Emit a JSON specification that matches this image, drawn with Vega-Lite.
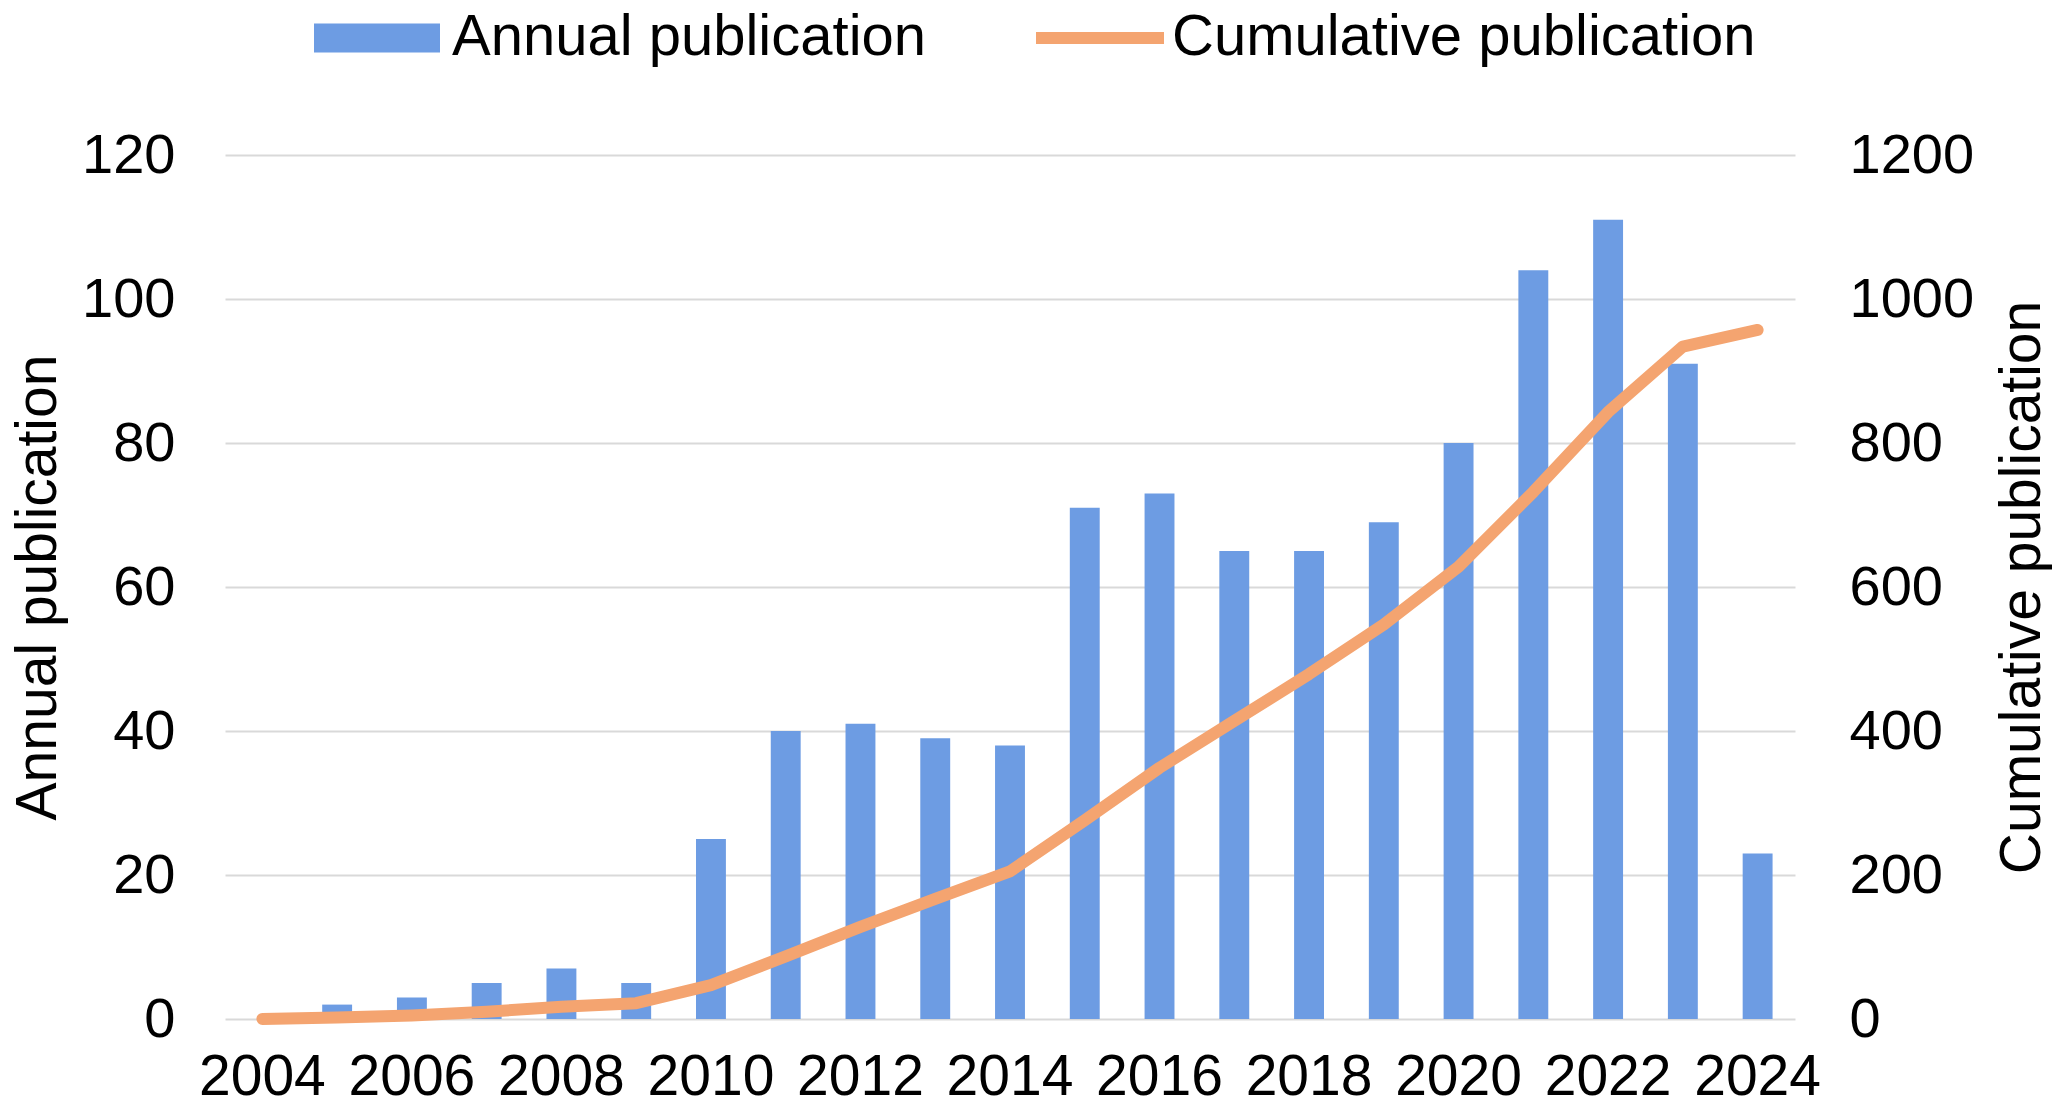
{
  "$schema": "https://vega.github.io/schema/vega-lite/v6.json",
  "autosize": {"type": "none"},
  "padding": {"left": 225, "top": 155, "right": 261, "bottom": 90},
  "width": 1570,
  "height": 864,
  "background": "white",
  "config": {
    "font": "Liberation Sans",
    "view": {"stroke": null},
    "axis": {
      "labelFont": "Liberation Sans",
      "titleFont": "Liberation Sans",
      "labelColor": "black",
      "titleColor": "black",
      "titleFontWeight": "normal",
      "ticks": false,
      "domain": false
    },
    "legend": {
      "labelFont": "Liberation Sans",
      "labelColor": "black",
      "labelFontSize": 58,
      "labelLimit": 0,
      "title": null,
      "orient": "none"
    }
  },
  "data": {
    "values": [
      {"year": "2004", "annual": 0, "cumulative": 0},
      {"year": "2005", "annual": 2, "cumulative": 2},
      {"year": "2006", "annual": 3, "cumulative": 5},
      {"year": "2007", "annual": 5, "cumulative": 10},
      {"year": "2008", "annual": 7, "cumulative": 17},
      {"year": "2009", "annual": 5, "cumulative": 22},
      {"year": "2010", "annual": 25, "cumulative": 47},
      {"year": "2011", "annual": 40, "cumulative": 87},
      {"year": "2012", "annual": 41, "cumulative": 128},
      {"year": "2013", "annual": 39, "cumulative": 167},
      {"year": "2014", "annual": 38, "cumulative": 205},
      {"year": "2015", "annual": 71, "cumulative": 276},
      {"year": "2016", "annual": 73, "cumulative": 349},
      {"year": "2017", "annual": 65, "cumulative": 414},
      {"year": "2018", "annual": 65, "cumulative": 479},
      {"year": "2019", "annual": 69, "cumulative": 548},
      {"year": "2020", "annual": 80, "cumulative": 628},
      {"year": "2021", "annual": 104, "cumulative": 732},
      {"year": "2022", "annual": 111, "cumulative": 843},
      {"year": "2023", "annual": 91, "cumulative": 934},
      {"year": "2024", "annual": 23, "cumulative": 957}
    ]
  },
  "encoding": {
    "x": {
      "field": "year",
      "type": "ordinal",
      "title": null,
      "scale": {"paddingInner": 0.6, "paddingOuter": 0.3},
      "axis": {
        "values": ["2004", "2006", "2008", "2010", "2012", "2014", "2016", "2018", "2020", "2022", "2024"],
        "labelAngle": 0,
        "labelFontSize": 57,
        "labelPadding": 30,
        "grid": false
      }
    }
  },
  "layer": [
    {
      "mark": {"type": "bar", "color": "#6d9ce3"},
      "encoding": {
        "y": {
          "field": "annual",
          "type": "quantitative",
          "title": "Annual publication",
          "scale": {"domain": [0, 120], "nice": false},
          "axis": {
            "values": [0, 20, 40, 60, 80, 100, 120],
            "labelFontSize": 56,
            "labelPadding": 50,
            "titleFontSize": 57,
            "titlePadding": 14,
            "grid": true,
            "gridColor": "#d9d9d9",
            "gridWidth": 2
          }
        },
        "color": {
          "datum": "Annual publication",
          "scale": {"range": ["#6d9ce3"]},
          "legend": {
            "legendX": 89,
            "legendY": -180,
            "symbolType": "M-1,-0.23H1V0.23H-1Z",
            "symbolSize": 15876,
            "symbolStrokeWidth": 0,
            "labelOffset": 12
          }
        }
      }
    },
    {
      "mark": {"type": "line", "strokeWidth": 12, "strokeCap": "round", "strokeJoin": "round"},
      "encoding": {
        "y": {
          "field": "cumulative",
          "type": "quantitative",
          "title": "Cumulative publication",
          "scale": {"domain": [0, 1200], "nice": false},
          "axis": {
            "orient": "right",
            "values": [0, 200, 400, 600, 800, 1000, 1200],
            "format": "d",
            "labelFontSize": 56,
            "labelPadding": 54,
            "titleFontSize": 57,
            "titleAngle": 270,
            "titlePadding": 78,
            "grid": false
          }
        },
        "stroke": {
          "datum": "Cumulative publication",
          "scale": {"range": ["#f4a470"]},
          "legend": {
            "legendX": 805,
            "legendY": -187,
            "symbolType": "M-1,0H1",
            "symbolSize": 16384,
            "symbolStrokeWidth": 12,
            "symbolFillColor": "transparent",
            "labelOffset": 2
          }
        }
      }
    }
  ],
  "resolve": {"scale": {"y": "independent"}}
}
